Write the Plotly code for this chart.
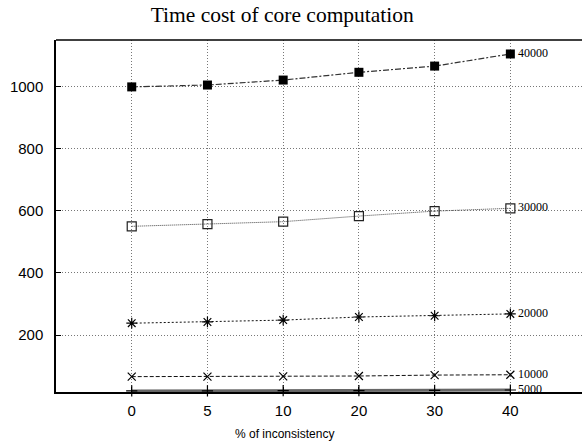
import plotly.graph_objects as go

categories = ["0", "5", "10", "20", "30", "40"]
series_names = ["40000", "30000", "20000", "10000", "5000"]
v40000 = [999, 1005, 1021, 1046, 1066, 1105]
v30000 = [550, 557, 565, 583, 599, 608]
v20000 = [238, 242, 248, 258, 262, 268]
v10000 = [66, 66, 67, 68, 71, 72]
v5000 = [20, 20, 21, 21, 22, 23]
values = [v40000, v30000, v20000, v10000, v5000]
ytick_vals = [200, 400, 600, 800, 1000]

styles = [
    dict(line=dict(color="#333", width=1.2, dash="6px,2px,2px,2px"),
         marker=dict(symbol="square", size=9, color="black")),
    dict(line=dict(color="#444", width=1, dash="1px,1px"),
         marker=dict(symbol="square-open", size=9, color="#222", line=dict(width=1.2))),
    dict(line=dict(color="#111", width=1, dash="2px,2px"),
         marker=dict(symbol="asterisk-open", size=9, color="black", line=dict(width=1.2, color="black"))),
    dict(line=dict(color="#111", width=1, dash="4px,2px"),
         marker=dict(symbol="x-thin-open", size=8, color="black", line=dict(width=1.2, color="black"))),
    dict(line=dict(color="#666", width=3, dash="solid"),
         marker=dict(symbol="cross-thin-open", size=8, color="black", line=dict(width=1.2, color="black"))),
]

fig = go.Figure()
last_idx = len(categories) - 1
for name, vals, st in zip(series_names, values, styles):
    fig.add_trace(go.Scatter(x=categories, y=vals, mode="lines+markers", name=name,
                             line=st["line"], marker=st["marker"], showlegend=False,
                             cliponaxis=False))
    fig.add_annotation(x=last_idx, y=vals[-1], text=name, showarrow=False,
                       xanchor="left", yanchor="middle", xshift=6, yshift=1,
                       font=dict(family="Liberation Serif", size=12, color="black"))

fig.add_annotation(x=0.435, y=-0.118, xref="paper", yref="paper",
                   text="% of inconsistency", showarrow=False, yanchor="middle",
                   font=dict(family="Liberation Sans", size=12, color="black"))

fig.update_layout(
    width=582, height=446,
    margin=dict(l=56, r=0, t=40, b=54),
    paper_bgcolor="white", plot_bgcolor="white",
    title=dict(text="Time cost of core computation", x=0.485, xanchor="center",
               y=0.968, yanchor="middle",
               font=dict(family="Liberation Serif", size=21.5, color="black")),
    font=dict(family="Liberation Sans", size=15, color="black"),
)

fig.update_xaxes(type="category", range=[-1, 5.946], showline=True, linecolor="black",
                 linewidth=1.5, mirror=False, ticks="inside", ticklen=5, tickcolor="black",
                 showgrid=True, gridcolor="#777", griddash="1px,2px", gridwidth=1,
                 zeroline=False, ticklabelstandoff=4,
                 tickfont=dict(family="Liberation Sans", size=15, color="black"))
fig.update_yaxes(range=[16.5, 1150], tickvals=ytick_vals, showline=True, linecolor="black",
                 linewidth=1.5, ticks="inside", ticklen=5, tickcolor="black",
                 showgrid=True, gridcolor="#777", griddash="1px,2px", gridwidth=1,
                 zeroline=False, ticklabelstandoff=8,
                 tickfont=dict(family="Liberation Sans", size=15, color="black"))
fig.add_shape(type="line", xref="paper", yref="paper", x0=0, x1=1, y0=1, y1=1,
              line=dict(color="black", width=1.5))

fig.write_html("out.html")
